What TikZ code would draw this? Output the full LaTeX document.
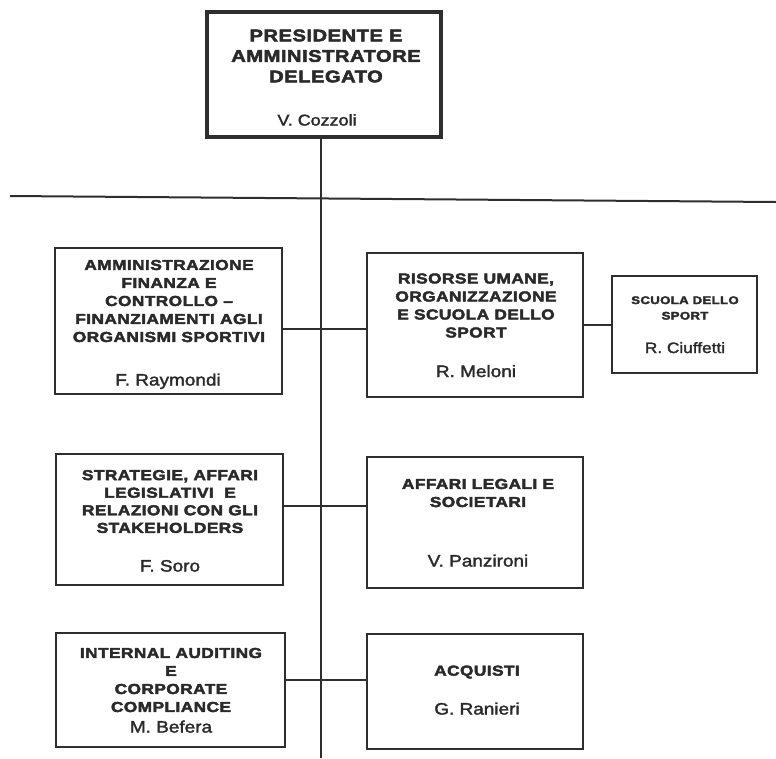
\documentclass[tikz,border=0pt]{standalone}
\usepackage{fontspec}
\setmainfont{Liberation Sans}
% heavy, slightly extended capitals for unit titles
\newfontfamily\capsfont{Liberation Sans Bold}[FakeStretch=1.2,LetterSpace=3,FakeBold=3]
% names of the heads of unit
\newfontfamily\namefont{Liberation Sans}[FakeStretch=1.15,FakeBold=2]
\usetikzlibrary{fit}
\definecolor{ink}{HTML}{2E2E2E}
\definecolor{textink}{HTML}{2A2A2A}
\begin{document}
\begin{tikzpicture}[x=1pt,y=-1pt,
  box/.style={draw=ink, line width=1.8pt, inner sep=0pt},
  topbox/.style={box, line width=3.2pt},
  link/.style={draw=ink, line width=1.6pt},
  title/.style={text=textink, align=center, inner sep=0pt,
    font=\capsfont\fontsize{14.4}{18}\selectfont},
  person/.style={text=textink, inner sep=0pt, anchor=base,
    font=\namefont\fontsize{16.5}{18}\selectfont}]
\useasboundingbox (0,0) rectangle (776,758);

% frames
\node[topbox, fit={(207,12) (441,137)}] (pres) {};
\node[box, fit={(55,248) (282,394)}] (afc) {};
\node[box, fit={(367,253) (583,397)}] (ru) {};
\node[box, fit={(612,276) (757,373)}] (sds) {};
\node[box, fit={(56,454) (283,585)}] (strat) {};
\node[box, fit={(367,457) (583,588)}] (legal) {};
\node[box, fit={(56,633) (285,747)}] (audit) {};
\node[box, fit={(367,634) (583,749)}] (acq) {};

% texts
\node[title, font=\capsfont\fontsize{16.8}{20.5}\selectfont] (presT) at (326,56)
  {PRESIDENTE E\\AMMINISTRATORE\\DELEGATO};
\node[person, font=\namefont\fontsize{15.6}{18}\selectfont] (presN) at (317,125.5) {V. Cozzoli};

\node[title] (afcT) at (169,301)
  {AMMINISTRAZIONE\\FINANZA E\\CONTROLLO –\\FINANZIAMENTI AGLI\\ORGANISMI SPORTIVI};
\node[person] (afcN) at (168,385.5) {F. Raymondi};

\node[title] (ruT) at (476,305.5)
  {RISORSE UMANE,\\ORGANIZZAZIONE\\E SCUOLA DELLO\\SPORT};
\node[person] (ruN) at (476,377) {R. Meloni};

\node[title, font=\capsfont\fontsize{11}{15.5}\selectfont] (sdsT) at (685,308)
  {SCUOLA DELLO\\SPORT};
\node[person, font=\namefont\fontsize{15}{17}\selectfont] (sdsN) at (685,353) {R. Ciuffetti};

\node[title, font=\capsfont\fontsize{14.4}{17.6}\selectfont] (stratT) at (170,501.5)
  {STRATEGIE, AFFARI\\LEGISLATIVI\ \ E\\RELAZIONI CON GLI\\STAKEHOLDERS};
\node[person] (stratN) at (170,571.5) {F. Soro};

\node[title] (legalT) at (478,493) {AFFARI LEGALI E\\SOCIETARI};
\node[person] (legalN) at (478,566.5) {V. Panzironi};

\node[title] (auditT) at (171,680)
  {INTERNAL AUDITING\\E\\CORPORATE\\COMPLIANCE};
\node[person] (auditN) at (171,732.5) {M. Befera};

\node[title] (acqT) at (477,672) {ACQUISTI};
\node[person] (acqN) at (477,714.5) {G. Ranieri};

% spine and rule
\coordinate (spineEnd) at (321,758);
\coordinate (ruleL) at (10,196);
\coordinate (ruleR) at (776,202);
\draw[link, line width=1.4pt] (pres.south -| spineEnd) -- (spineEnd);
\draw[link, line width=2pt] (ruleL) -- (ruleR);

% branches
\coordinate (r1) at (321,329);
\coordinate (r2) at (597,325);
\coordinate (r3) at (321,506);
\coordinate (r4) at (321,680);
\draw[link] (afc.east |- r1) -- (ru.west |- r1);
\draw[link] (ru.east |- r2) -- (sds.west |- r2);
\draw[link] (strat.east |- r3) -- (legal.west |- r3);
\draw[link] (audit.east |- r4) -- (acq.west |- r4);
\end{tikzpicture}
\end{document}
